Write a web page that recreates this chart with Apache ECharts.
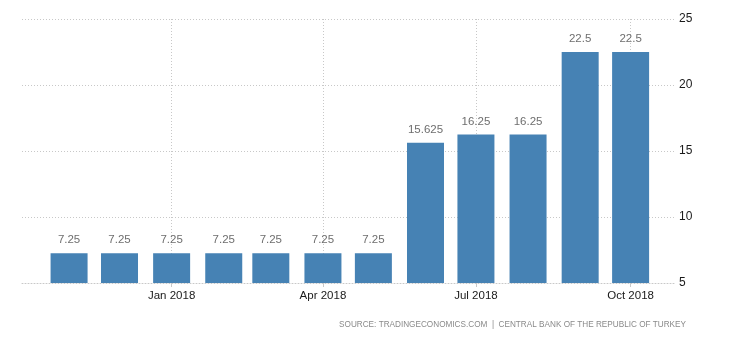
<!DOCTYPE html>
<html>
<head>
<meta charset="utf-8">
<script src="https://cdn.jsdelivr.net/npm/echarts@6/dist/echarts.min.js"></script>
<style>
  html, body { margin: 0; padding: 0; background: #fff; }
  #chart { width: 730px; height: 340px; }
</style>
</head>
<body>
<div id="chart"></div>
<script>
// Turkey interest rate, monthly policy decisions (percent)
const months = ['2017-11-01', '2017-12-01', '2018-01-01', '2018-02-01', '2018-03-01', '2018-04-01',
                '2018-05-01', '2018-06-01', '2018-07-01', '2018-08-01', '2018-09-01', '2018-10-01'];
const rates = [7.25, 7.25, 7.25, 7.25, 7.25, 7.25, 7.25, 15.625, 16.25, 16.25, 22.5, 22.5];
const yTicks = [5, 10, 15, 20, 25];
const sourceNote = 'SOURCE: TRADINGECONOMICS.COM  |  CENTRAL BANK OF THE REPUBLIC OF TURKEY';

const monthNames = ['Jan', 'Feb', 'Mar', 'Apr', 'May', 'Jun', 'Jul', 'Aug', 'Sep', 'Oct', 'Nov', 'Dec'];
const FONT = 'Liberation Sans';
const BAR_W = 37;
const BAR_COLOR = '#4682b4';
const GRID_LINE = { color: '#c8c8c8', type: [1, 2], width: 1 };

const chart = echarts.init(document.getElementById('chart'), null, { renderer: 'canvas' });

// Each bar is a rect centred on its month, from the axis floor up to the rate,
// with the rate written above it.
function renderBar(params, api) {
  const t = api.value(0);
  const v = api.value(1);
  const top = api.coord([t, v]);
  const base = api.coord([t, yTicks[0]]);
  return {
    type: 'group',
    children: [{
      type: 'rect',
      shape: { x: top[0] - BAR_W / 2, y: top[1], width: BAR_W, height: base[1] - top[1] },
      style: { fill: BAR_COLOR }
    }, {
      type: 'text',
      x: top[0],
      y: top[1] - 7,
      style: {
        text: String(v),
        fill: '#6e6e6e',
        font: '11.5px "Liberation Sans"',
        align: 'center',
        verticalAlign: 'bottom'
      }
    }]
  };
}

chart.setOption({
  animation: false,
  backgroundColor: '#ffffff',
  textStyle: { fontFamily: FONT },
  grid: { left: 22, right: 54, top: 19, bottom: 57, containLabel: false },
  xAxis: {
    type: 'time',
    min: +new Date('2017-10-04'),
    max: +new Date('2018-10-28'),
    splitNumber: 4,
    axisLine: { show: true, lineStyle: GRID_LINE },
    axisTick: { show: true, length: 4, lineStyle: { color: '#c8c8c8' } },
    minorTick: { show: false },
    splitLine: { show: true, showMinLine: false, showMaxLine: false, lineStyle: GRID_LINE },
    axisLabel: {
      color: '#1a1a1a',
      fontSize: 11.5,
      fontFamily: FONT,
      margin: 7,
      showMinLabel: false,
      showMaxLabel: false,
      formatter: function (v) {
        const d = new Date(v);
        return monthNames[d.getMonth()] + ' ' + d.getFullYear();
      }
    }
  },
  yAxis: {
    type: 'value',
    position: 'right',
    min: yTicks[0],
    max: yTicks[yTicks.length - 1],
    interval: 5,
    axisLine: { show: false },
    axisTick: { show: false },
    splitLine: { show: true, lineStyle: GRID_LINE },
    axisLabel: { color: '#1a1a1a', fontSize: 12, fontFamily: FONT, margin: 3 }
  },
  series: [{
    type: 'custom',
    renderItem: renderBar,
    encode: { x: 0, y: 1 },
    data: months.map((m, i) => [+new Date(m + 'T00:00:00'), rates[i]])
  }],
  graphic: [{
    type: 'text',
    right: 44,
    top: 321,
    style: {
      text: sourceNote,
      fill: '#8a8a8a',
      font: '8.2px "Liberation Sans"'
    }
  }]
});
</script>
</body>
</html>
